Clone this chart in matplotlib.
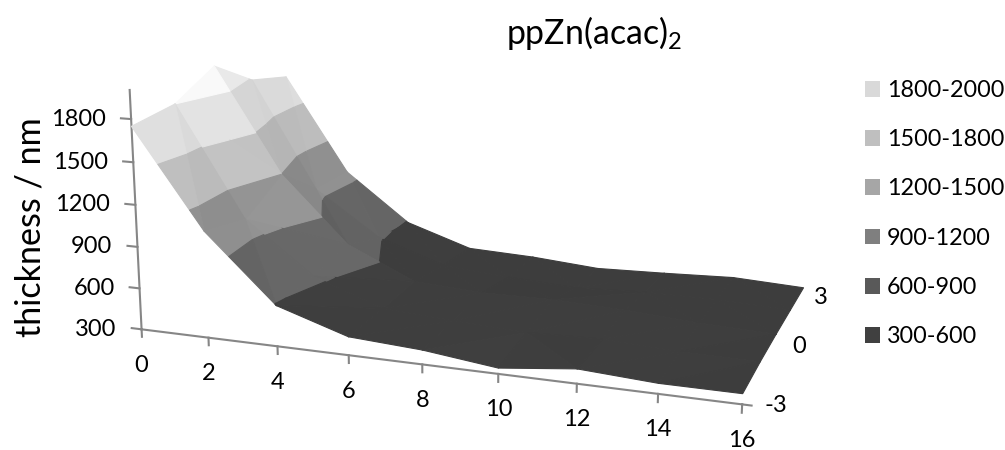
import numpy as np
import matplotlib
matplotlib.use('Agg')
import matplotlib.pyplot as plt
from matplotlib.patches import Patch
from mpl_toolkits.mplot3d.art3d import Poly3DCollection

plt.rcParams['font.family'] = ['Lato', 'DejaVu Sans']
plt.rcParams['mathtext.default'] = 'regular'

# data
x_vals = [0, 2, 4, 6, 8, 10, 12, 14, 16]
y_vals = [-3, -1.5, 0, 1.5, 3]
thick_m3 = [1750, 1060, 590, 430, 400, 340, 400, 370, 370]
thick_m15 = [1800, 1000, 630, 450, 420, 395, 410, 385, 380]
thick_0 = [1980, 1200, 710, 480, 450, 455, 435, 400, 380]
thick_p15 = [1780, 950, 610, 440, 400, 370, 395, 395, 375]
thick_p3 = [1710, 960, 585, 420, 400, 360, 375, 395, 370]
z_ticks = [300, 600, 900, 1200, 1500, 1800]
x_labels = [0, 2, 4, 6, 8, 10, 12, 14, 16]
y_labels = [-3, 0, 3]

band_edges = [0, 600, 900, 1200, 1500, 1800, 2100]
band_labels = ['1800-2000', '1500-1800', '1200-1500', '900-1200', '600-900', '300-600']
legend_grays = ['#d9d9d9', '#bfbfbf', '#a6a6a6', '#7f7f7f', '#595959', '#404040']
surface_grays = [0.245, 0.40, 0.57, 0.75, 0.875, 0.96]

# where known points of the chart box land in the image, (x, y, z) -> pixel
box_points = [(0, -3, 300), (2, -3, 300), (4, -3, 300), (6, -3, 300), (8, -3, 300),
              (10, -3, 300), (12, -3, 300), (14, -3, 300), (16, -3, 300),
              (16, 3, 300), (0, 3, 300), (0, 3, 1800), (16, 3, 1800), (0, -3, 1800),
              (16, 3, 600), (16, 3, 900), (16, 3, 1200), (16, 3, 1500)]
box_pixels = [(142, 328), (209, 337), (278, 347), (349, 356), (422, 365),
              (498, 374), (577, 384), (658, 394), (742, 404),
              (804, 296), (289, 245), (287, 66), (814, 98), (130, 119),
              (805, 258), (807, 219), (809, 180), (812, 139)]


def fit_camera(points, pixels):
    # plain DLT with the last entry fixed to 1
    rows, rhs = [], []
    for (x, y, z), (u, v) in zip(points, pixels):
        v = 450 - v
        rows.append([x, y, z, 1, 0, 0, 0, 0, -u * x, -u * y, -u * z])
        rows.append([0, 0, 0, 0, x, y, z, 1, -v * x, -v * y, -v * z])
        rhs += [u, v]
    p = np.linalg.lstsq(np.array(rows, float), np.array(rhs, float), rcond=None)[0]
    return np.append(p, 1.0).reshape(3, 4)


def clip_z(poly, level, keep_above):
    out = []
    for i in range(len(poly)):
        a, b = poly[i], poly[(i + 1) % len(poly)]
        a_in = a[2] >= level if keep_above else a[2] <= level
        b_in = b[2] >= level if keep_above else b[2] <= level
        if a_in:
            out.append(a)
        if a_in != b_in:
            t = (level - a[2]) / (b[2] - a[2])
            out.append(a + t * (b - a))
    return out


def facet_shade(tri):
    # Excel lights each facet a little differently
    scale = np.array([3 / 16, 1.5 / 6, 1 / 1500])
    n = np.cross((tri[1] - tri[0]) * scale, (tri[2] - tri[0]) * scale)
    n = n / np.linalg.norm(n)
    if n[2] < 0:
        n = -n
    light = np.array([0.3, -0.8, 0.5])
    light = light / np.linalg.norm(light)
    return 1 + 0.2 * (np.dot(n, light) - 0.6)


X = np.array(x_vals, float)
Y = np.array(y_vals, float)
Z = np.array([thick_m3, thick_m15, thick_0, thick_p15, thick_p3], float)

polys, colors = [], []
for j in range(len(Y) - 1):
    for i in range(len(X) - 1):
        p00 = np.array([X[i], Y[j], Z[j, i]])
        p10 = np.array([X[i + 1], Y[j], Z[j, i + 1]])
        p01 = np.array([X[i], Y[j + 1], Z[j + 1, i]])
        p11 = np.array([X[i + 1], Y[j + 1], Z[j + 1, i + 1]])
        # split each cell along the diagonal with the smaller height change
        if abs(p00[2] - p11[2]) <= abs(p10[2] - p01[2]):
            tris = ([p00, p10, p11], [p00, p11, p01])
        else:
            tris = ([p00, p10, p01], [p10, p11, p01])
        for tri in tris:
            shade = facet_shade(tri)
            for k in range(len(band_edges) - 1):
                part = clip_z(tri, band_edges[k], True)
                if part:
                    part = clip_z(part, band_edges[k + 1], False)
                if len(part) >= 3:
                    polys.append(part)
                    g = min(surface_grays[k] * shade, 0.98)
                    colors.append((g, g, g))

fig = plt.figure(figsize=(10.05, 4.5), dpi=100)
ax = fig.add_axes([0, 0, 1, 1], projection='3d', computed_zorder=False)
ax.set_axis_off()

camera = fit_camera(box_points, box_pixels)


def chart_proj():
    # image pixels -> the 2D coordinates of the axes
    a = ax.transData.inverted().get_matrix()
    M = np.zeros((4, 4))
    M[0] = a[0, 0] * camera[0] + a[0, 1] * camera[1] + a[0, 2] * camera[2]
    M[1] = a[1, 0] * camera[0] + a[1, 1] * camera[1] + a[1, 2] * camera[2]
    M[2] = [0, 1, 0, 3]
    M[3] = camera[2]
    return M


ax.get_proj = chart_proj


def label_at(x, y, z, dx, dy, text, **kw):
    # tick label placed dx, dy pixels from where (x, y, z) lands in the image
    u, v, w = camera @ np.array([x, y, z, 1.0])
    fig.text((u / w + dx) / 1005, (v / w - dy) / 450, text, fontsize=17, va='center', color='black', **kw)


line_gray = '#868686'
line_kw = dict(color=line_gray, lw=1.5, clip_on=False, zorder=1)

# back wall and left wall gridlines
for z in z_ticks:
    ax.plot([0, 16], [3, 3], [z, z], **line_kw)
    ax.plot([0, 0], [-3, 3], [z, z], **line_kw)

surface = Poly3DCollection(polys, facecolors=colors, edgecolors=colors, linewidths=0.8,
                           zorder=2)
ax.add_collection3d(surface)
surface.set_clip_on(False)

# axes in front
ax.plot([0, 16], [-3, -3], [300, 300], **line_kw)
ax.plot([16, 16], [-3, 3], [300, 300], **line_kw)
ax.plot([0, 0], [-3, -3], [300, 2000], **line_kw)
for x in x_vals:
    ax.plot([x, x], [-3, -3], [300, 245], **line_kw)
for y in y_vals:
    ax.plot([16, 16.22], [y, y], [300, 300], **line_kw)
for z in z_ticks:
    ax.plot([0, -0.3], [-3, -3], [z, z], **line_kw)

for x, lab in zip(x_vals, x_labels):
    label_at(x, -3, 300, 0, 36, str(lab), ha='center')
for y, lab, dx in zip(y_vals[::2], y_labels, [34, 24, 18]):
    label_at(16, y, 300, dx, 1, str(lab), ha='center')
for z in z_ticks:
    label_at(0, -3, z, -25, 0, str(z), ha='right')

fig.text(594.5 / 1005, 1 - 33 / 450, 'ppZn(acac)$_2$', fontsize=24.4, ha='center', va='center')
fig.text(30 / 1005, 1 - 227 / 450, 'thickness / nm', fontsize=24.6, rotation=90,
         ha='center', va='center')

handles = [Patch(facecolor=c, edgecolor='none') for c in legend_grays]
fig.legend(handles, band_labels, loc='upper left', bbox_to_anchor=(865 / 1005, 1 - 80 / 450),
           frameon=False, fontsize=16.8, handlelength=0.65, handleheight=0.65,
           handletextpad=0.3, labelspacing=1.21, borderpad=0, borderaxespad=0)

fig.savefig('out.png', dpi=100)
